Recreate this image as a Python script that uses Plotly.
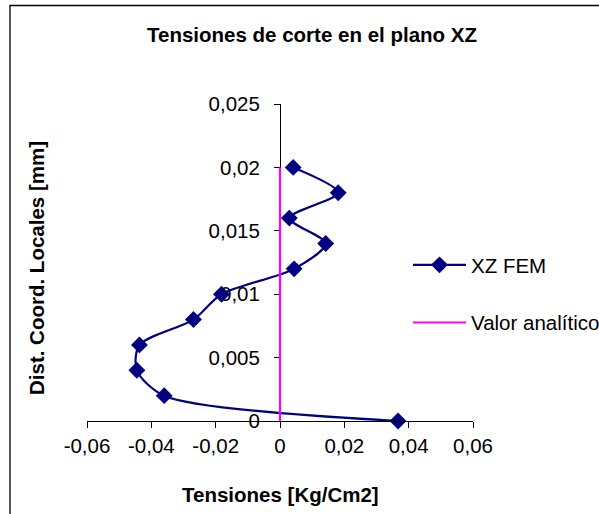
import plotly.graph_objects as go

# Data
stress_fem = [0.0367, -0.0360, -0.0445, -0.0437, -0.0269, -0.0182, 0.0044, 0.0142, 0.0029, 0.0181, 0.0041]
dist_fem = [0.0, 0.002, 0.004, 0.006, 0.008, 0.010, 0.012, 0.014, 0.016, 0.018, 0.020]
stress_analytic = [0.0, 0.0]
dist_analytic = [0.0, 0.020]

x_tickvals = [-0.06, -0.04, -0.02, 0.0, 0.02, 0.04, 0.06]
x_ticktext = ["-0,06", "-0,04", "-0,02", "0", "0,02", "0,04", "0,06"]
y_tickvals = [0.0, 0.005, 0.01, 0.015, 0.02, 0.025]
y_ticktext = ["0", "0,005", "0,01", "0,015", "0,02", "0,025"]

FONT = "Arial, Liberation Sans, sans-serif"
FS = 20.5

W, H = 599, 514
L, R, T, B = 87, 126, 104, 93
pw, ph = W - L - R, H - T - B

def px(x):
    return (x - L) / pw

def py(y):
    return (H - B - y) / ph

fig = go.Figure()
fig.add_trace(go.Scatter(
    x=stress_fem, y=dist_fem, mode="lines+markers", name="XZ FEM",
    line=dict(color="#000080", width=2.2, shape="spline", smoothing=0.8),
    marker=dict(symbol="diamond", size=13, color="#000080"),
    cliponaxis=False, legendgroup="a",
))
fig.add_trace(go.Scatter(
    x=stress_analytic, y=dist_analytic, mode="lines", name="Valor analítico",
    line=dict(color="#FF00FF", width=2.2),
    cliponaxis=False, legendgroup="b",
))

fig.update_layout(
    width=W, height=H,
    margin=dict(l=L, r=R, t=T, b=B, autoexpand=False),
    paper_bgcolor="white", plot_bgcolor="white",
    font=dict(family=FONT, size=FS, color="black"),
    title=dict(text="<b>Tensiones de corte en el plano XZ</b>", x=312 / W, xanchor="center",
               y=1 - 35 / H, yanchor="middle", font=dict(size=FS, family=FONT, color="black")),
    xaxis=dict(range=[-0.06, 0.06], domain=[0, 1], tickvals=x_tickvals, ticktext=x_ticktext,
               showgrid=False, zeroline=False, showline=True, linecolor="black", linewidth=1,
               ticks="outside", ticklen=6, tickcolor="black", tickfont=dict(size=FS),
               automargin=False, fixedrange=True),
    yaxis=dict(range=[0, 0.025], domain=[0, 1], tickvals=y_tickvals, ticktext=y_ticktext,
               anchor="free", position=0.5, showgrid=False, zeroline=False, showline=True,
               linecolor="black", linewidth=1, ticks="outside", ticklen=6, tickcolor="black",
               tickfont=dict(size=FS), ticklabelstandoff=10, layer="below traces",
               automargin=False, fixedrange=True),
    legend=dict(x=px(408), xanchor="left", y=py(294), yanchor="middle",
                font=dict(size=FS, family=FONT), itemwidth=53,
                traceorder="grouped", tracegroupgap=28, bgcolor="rgba(0,0,0,0)"),
    showlegend=True,
)

fig.add_annotation(text="<b>Dist. Coord. Locales [mm]</b>", textangle=-90,
                   xref="paper", yref="paper", x=px(36), y=py(268),
                   xanchor="center", yanchor="middle", showarrow=False,
                   font=dict(size=FS, family=FONT, color="black"))
fig.add_annotation(text="<b>Tensiones [Kg/Cm2]</b>",
                   xref="paper", yref="paper", x=px(280), y=py(495),
                   xanchor="center", yanchor="middle", showarrow=False,
                   font=dict(size=FS, family=FONT, color="black"))

fig.add_shape(type="rect", xref="paper", yref="paper",
              x0=px(10), x1=px(640), y0=py(560), y1=py(5.5),
              line=dict(color="black", width=1.3), fillcolor="rgba(0,0,0,0)", layer="below")

fig.write_html("out.html")
